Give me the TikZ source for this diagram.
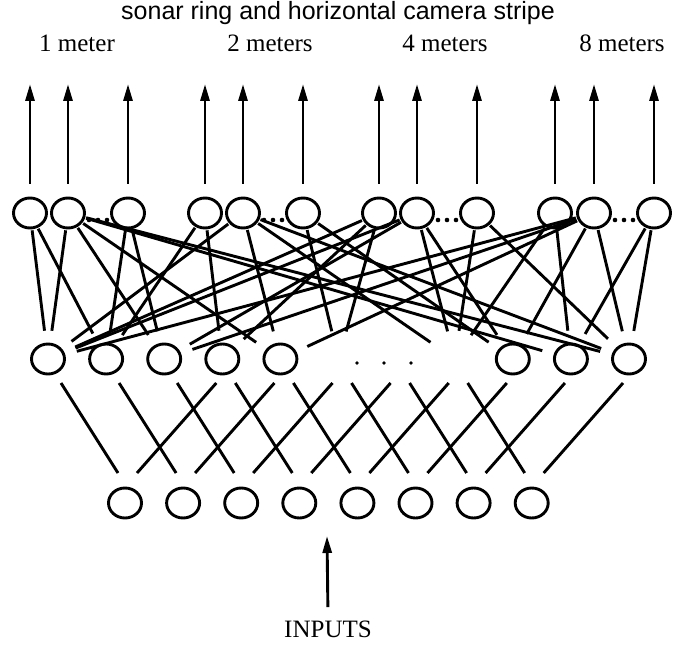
\documentclass[tikz,border=0pt]{standalone}
\usepackage{fontspec}
\setmainfont{Liberation Serif}
\newfontfamily\titlefont{Liberation Sans}
\usetikzlibrary{shapes.geometric,arrows.meta,calc}

\begin{document}
\begin{tikzpicture}[x=1pt,y=-1pt,
    unit/.style={ellipse,draw,line width=2.9pt,minimum width=33pt,minimum height=30pt,inner sep=0pt},
    ghost/.style={unit,draw=none},
    link/.style={line width=2.9pt},
    outarrow/.style={line width=2.9pt,-{Triangle[length=17pt,width=9pt]}},
    lbl/.style={font=\fontsize{25}{30}\selectfont}]
    \useasboundingbox (0,0) rectangle (677,647);

    % Title and the four distance labels
    \node[font=\titlefont\fontsize{25}{30}\selectfont] (title) at (338,13) {sonar ring and horizontal camera stripe};
    \node[lbl] (d1) at (77,43) {1 meter};
    \node[lbl] (d2) at (270,43) {2 meters};
    \node[lbl] (d4) at (445,43) {4 meters};
    \node[lbl] (d8) at (622,43) {8 meters};

    % Output units with their arrows
    \foreach \n/\x in {1/30,2/68,3/128,4/205,5/243,6/303,7/379,8/417,9/477,10/555,11/594,12/654} {
        \node[unit] (t\n) at (\x,213) {};
        \coordinate (a\n) at (\x,84);
        \draw[outarrow,shorten <=13pt] (t\n.north) -- (a\n);
    }
    % dots between second and last unit of each ring
    \foreach \p/\q in {t2/t3,t5/t6,t8/t9,t11/t12}
        \foreach \d in {-9,0,9}
            \fill ($(\p)!0.5!(\q)+(\d,7)$) circle (2.3pt);

    % Hidden units (5, 6 and 7 are left out)
    \foreach \i in {0,...,4,8,9,10}
        \node[unit] (m\i) at (48+58.1*\i,359) {};
    \foreach \i in {5,6,7}
        \node[ghost] (m\i) at (48+58.1*\i,359) {};
    \foreach \x in {357,384,411}
        \fill (\x,363) circle (1.8pt);

    % Input units
    \foreach \i in {0,...,7}
        \node[unit] (b\i) at (125+58.1*\i,503) {};

    % Input arrow
    \node[lbl] (inputs) at (328,629) {INPUTS};
    \coordinate (tip) at (327,536);
    \draw[outarrow,shorten <=10pt] (inputs.north) -- (tip);

    % Input to hidden connections
    \foreach \i in {0,...,7} {
        \pgfmathtruncatemacro\j{\i+3}
        \draw[link] ($(m\i)+(13,24)$) -- ($(b\i)+(-7,-30)$);
        \draw[link] ($(b\i)+(12,-30)$) -- ($(m\j)+(-6,24)$);
    }

    % Hidden to output connections
    \foreach \t/\ms in {1/{0,1},2/{0,2,4,9,10},3/{1,2},4/{1,3},5/{0,4,7,10},6/{5,8},
                        7/{0,3,5},8/{0,2,7,8},9/{7,10},10/{7,9},11/{0,2,4,8,10},12/{9,10}}
        \foreach \m in \ms
            \draw[link,shorten >=12pt,shorten <=1pt] (t\t) -- (m\m);
\end{tikzpicture}
\end{document}
